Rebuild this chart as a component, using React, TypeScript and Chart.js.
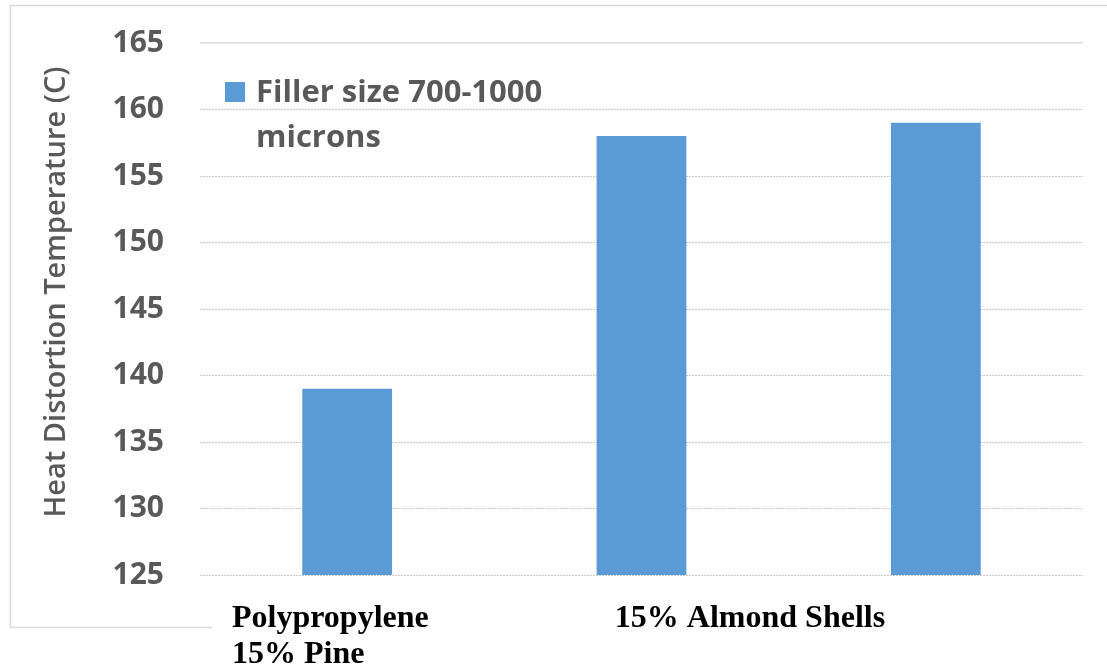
import React, { useEffect, useRef } from "react";
import { Chart, registerables } from "chart.js";

Chart.register(...registerables);

const categories = ["Polypropylene", "15% Pine", "15% Almond Shells"];
const seriesLabel = ["Filler size 700-1000", "microns"];
const heatDistortion = [139, 158, 159];
const yTicks = [125, 130, 135, 140, 145, 150, 155, 160, 165];
const yTitle = "Heat Distortion Temperature (C)";

const BAR_COLOR = "#5b9bd5";
const GRAY_TEXT = "#595959";

// Frame, axis title, in-plot legend and the serif category captions under the axis
const decorations = {
  id: "decorations",
  beforeDraw(chart: any) {
    const { ctx, width } = chart;
    ctx.save();
    ctx.fillStyle = "#ffffff";
    ctx.fillRect(0, 0, width, chart.height);
    ctx.strokeStyle = "#d9d9d9";
    ctx.lineWidth = 1.5;
    ctx.strokeRect(10.5, 5.5, width, 622);
    ctx.restore();
  },
  afterDraw(chart: any) {
    const { ctx, chartArea, width, height } = chart;
    ctx.save();

    // y-axis title
    ctx.save();
    ctx.translate(57, 292);
    ctx.rotate(-Math.PI / 2);
    ctx.fillStyle = GRAY_TEXT;
    ctx.font = "600 29px 'Open Sans'";
    ctx.textAlign = "center";
    ctx.textBaseline = "middle";
    ctx.fillText(yTitle, 0, 0);
    ctx.restore();

    // legend
    const ds = chart.data.datasets[0];
    ctx.fillStyle = ds.backgroundColor;
    ctx.fillRect(chartArea.left + 25, 82, 20, 20);
    ctx.fillStyle = GRAY_TEXT;
    ctx.font = "bold 31px 'Open Sans'";
    ctx.textBaseline = "middle";
    ctx.textAlign = "left";
    seriesLabel.forEach((line, i) => {
      ctx.fillText(line, chartArea.left + 56, 93 + i * 45);
    });

    // category captions
    ctx.fillStyle = "#ffffff";
    ctx.fillRect(212, 590, width - 212, height - 590);
    ctx.fillStyle = "#000000";
    ctx.font = "bold 32px 'Liberation Serif'";
    ctx.textBaseline = "alphabetic";
    ctx.textAlign = "left";
    ctx.fillText(categories[0], chartArea.left + 32, 627);
    ctx.fillText(categories[1], chartArea.left + 32, 663);
    ctx.textAlign = "center";
    ctx.fillText(categories[2], chartArea.left + 550, 627);
    ctx.restore();
  },
};

export default function App() {
  const canvasRef = useRef<HTMLCanvasElement | null>(null);

  useEffect(() => {
    if (!canvasRef.current) return;
    const chart = new Chart(canvasRef.current, {
      type: "bar",
      data: {
        labels: categories,
        datasets: [
          {
            label: seriesLabel.join(" "),
            data: heatDistortion,
            backgroundColor: BAR_COLOR,
            barPercentage: 0.61,
            categoryPercentage: 0.5,
          },
        ],
      },
      options: {
        responsive: false,
        animation: false,
        layout: { padding: { left: 10, right: 24, top: 43, bottom: 91 } },
        plugins: { legend: { display: false }, tooltip: { enabled: false } },
        scales: {
          x: {
            display: false,
          },
          y: {
            min: yTicks[0],
            max: yTicks[yTicks.length - 1],
            afterBuildTicks: (axis: any) => {
              axis.ticks = yTicks.map((v) => ({ value: v }));
            },
            afterFit: (axis: any) => {
              axis.width = 190;
              axis.paddingTop = 0;
              axis.paddingBottom = 0;
            },
            ticks: {
              color: GRAY_TEXT,
              font: { family: "'Open Sans'", size: 30, weight: "bold" },
              padding: 36,
            },
            grid: {
              color: (c: any) => (c.tick && c.tick.value === 165 ? "#d9d9d9" : "#c8c8c8"),
              lineWidth: (c: any) => (c.tick && c.tick.value === 165 ? 1.5 : 1),
              drawTicks: false,
            },
            border: {
              display: false,
              dash: (c: any) => (c.tick && c.tick.value === 165 ? [] : [2, 1]),
            },
          },
        },
      },
      plugins: [decorations],
    });
    return () => chart.destroy();
  }, []);

  return (
    <div style={{ position: "fixed", left: 0, top: 0, width: 1107, height: 666 }}>
      <canvas ref={canvasRef} width={1107} height={666} />
    </div>
  );
}
